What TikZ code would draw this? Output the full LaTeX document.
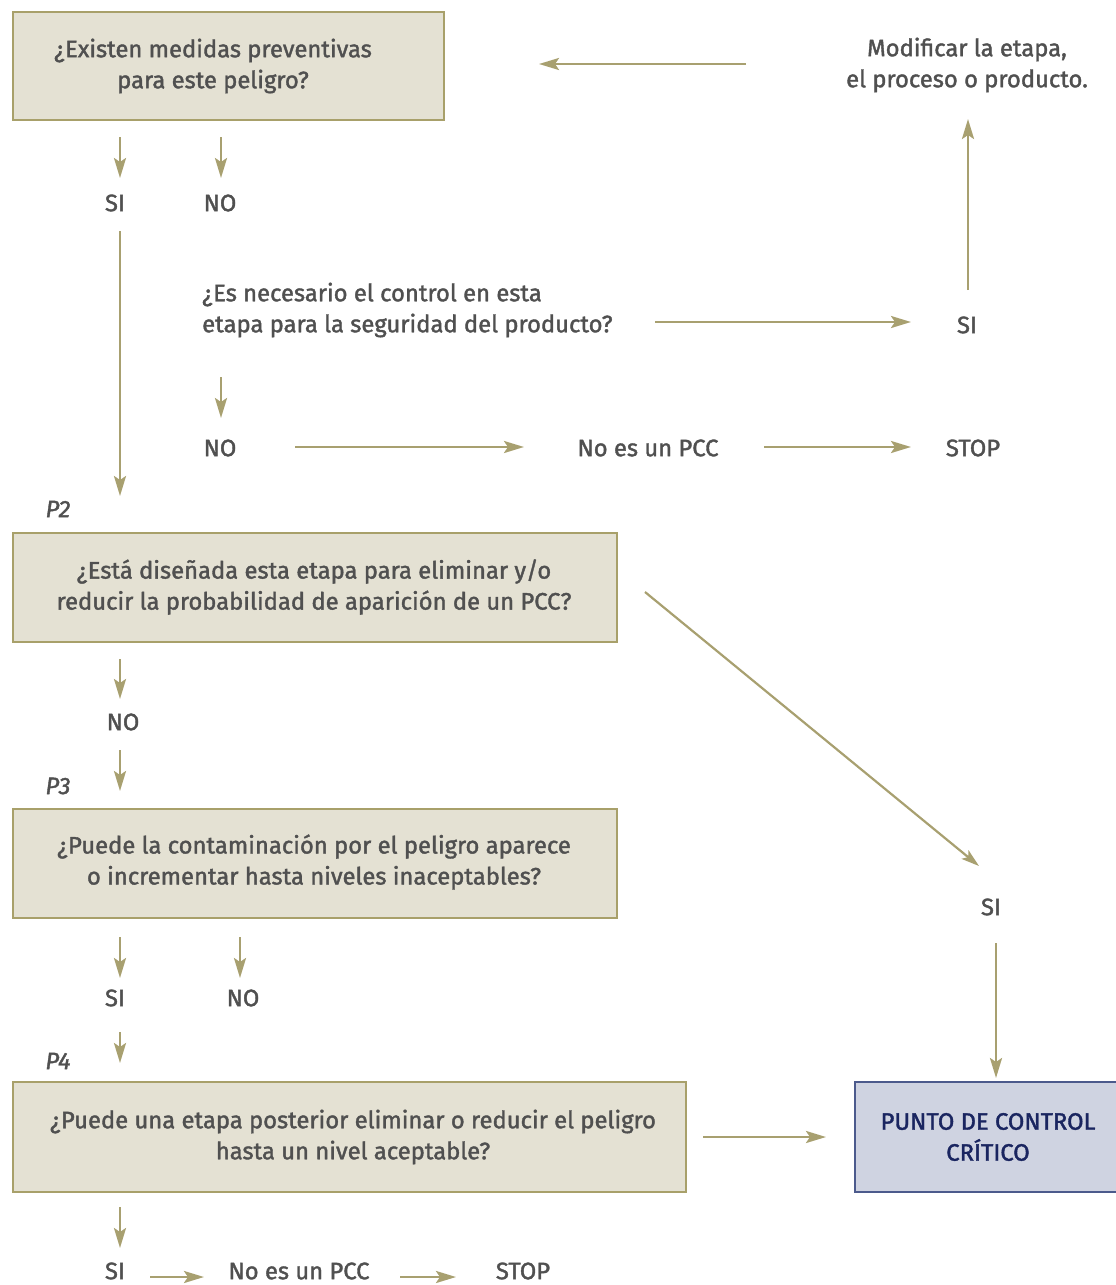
\documentclass[tikz,border=0pt]{standalone}
\usepackage{fontspec}
\setmainfont{Fira Sans}[BoldFont={Fira Sans}, BoldFeatures={FakeBold=1.6}, BoldItalicFont={Fira Sans Italic}, BoldItalicFeatures={FakeBold=1.6}]
\usetikzlibrary{arrows.meta}
\definecolor{olive}{HTML}{A8A070}
\definecolor{boxfill}{HTML}{E4E1D3}
\definecolor{boxedge}{HTML}{A8A06A}
\definecolor{txt}{HTML}{505050}
\definecolor{bluefill}{HTML}{CFD3E1}
\definecolor{blueedge}{HTML}{4C5A8C}
\definecolor{navy}{HTML}{1A2560}
\tikzset{
  qbox/.style={draw=boxedge, fill=boxfill, line width=1.5pt},
  txtnode/.style={text=txt, font=\fontsize{23.8}{31}\selectfont\bfseries, align=center, inner sep=0pt},
  lbl/.style={text=txt, font=\fontsize{23.8}{31}\selectfont\bfseries, inner sep=0pt},
  plbl/.style={text=txt, font=\fontsize{23.8}{31}\selectfont\bfseries\itshape, inner sep=0pt},
  arr/.style={draw=olive, line width=2.7pt, -{Stealth[length=20pt,width=12pt,inset=4pt]}},
  darr/.style={draw=olive, line width=2.2pt, -{Stealth[length=18pt,width=11pt,inset=4pt]}},
}
\begin{document}
\begin{tikzpicture}[x=1pt,y=-1pt]
\useasboundingbox (0,0) rectangle (1116,1285);
% boxes
\draw[qbox] (13,12) rectangle (444,120);
\node[txtnode] (q1) at (213,66) {¿Existen medidas preventivas\\para este peligro?};
\draw[qbox] (13,533) rectangle (617,642);
\node[txtnode] (q2) at (314,587) {¿Está diseñada esta etapa para eliminar y/o\\reducir la probabilidad de aparición de un PCC?};
\draw[qbox] (13,809) rectangle (617,918);
\node[txtnode] (q3) at (314,862) {¿Puede la contaminación por el peligro aparece\\o incrementar hasta niveles inaceptables?};
\draw[qbox] (13,1082) rectangle (686,1192);
\node[txtnode] (q4) at (353,1137) {¿Puede una etapa posterior eliminar o reducir el peligro\\hasta un nivel aceptable?};
\draw[draw=blueedge, fill=bluefill, line width=1.5pt] (855,1082) rectangle (1125,1192);
\node[txtnode, text=navy] (pcc) at (988,1137) {PUNTO DE CONTROL\\CRÍTICO};

% texts
\node[txtnode] (mod) at (967,65) {Modificar la etapa,\\el proceso o producto.};
\node[lbl] (si1) at (115,203) {SI};
\node[lbl] (no1) at (220,203) {NO};
\node[txtnode, align=left, anchor=west] (qn) at (202,310) {¿Es necesario el control en esta\\etapa para la seguridad del producto?};
\node[lbl] (si2) at (967,325) {SI};
\node[lbl] (no2) at (220,448) {NO};
\node[lbl] (nopcc1) at (648,448) {No es un PCC};
\node[lbl] (stop1) at (973,448) {STOP};
\node[plbl] (p2) at (58,509) {P2};
\node[lbl] (no3) at (123,722) {NO};
\node[plbl] (p3) at (58,786) {P3};
\node[lbl] (si3) at (991,907) {SI};
\node[lbl] (si4) at (115,998) {SI};
\node[lbl] (no4) at (243,998) {NO};
\node[plbl] (p4) at (58,1061) {P4};
\node[lbl] (si5) at (115,1271) {SI};
\node[lbl] (nopcc2) at (299,1271) {No es un PCC};
\node[lbl] (stop2) at (523,1271) {STOP};

% arrow end points
\coordinate (a1s) at (120,137); \coordinate (a1e) at (120,178);
\coordinate (a2s) at (221,137); \coordinate (a2e) at (221,178);
\coordinate (a3s) at (120,231); \coordinate (a3e) at (120,496);
\coordinate (a4s) at (655,322); \coordinate (a4e) at (911,322);
\coordinate (a5s) at (968,290); \coordinate (a5e) at (968,119);
\coordinate (a6s) at (746,64);  \coordinate (a6e) at (539,64);
\coordinate (a7s) at (221,377); \coordinate (a7e) at (221,418);
\coordinate (a8s) at (295,447); \coordinate (a8e) at (524,447);
\coordinate (a9s) at (764,447); \coordinate (a9e) at (911,447);
\coordinate (b1s) at (120,659); \coordinate (b1e) at (120,699);
\coordinate (b2s) at (120,750); \coordinate (b2e) at (120,791);
\coordinate (b3s) at (645,592); \coordinate (b3e) at (979,866);
\coordinate (b4s) at (996,943); \coordinate (b4e) at (996,1078);
\coordinate (c1s) at (120,937); \coordinate (c1e) at (120,978);
\coordinate (c2s) at (240,937); \coordinate (c2e) at (240,978);
\coordinate (c3s) at (120,1032); \coordinate (c3e) at (120,1063);
\coordinate (c4s) at (703,1137); \coordinate (c4e) at (826,1137);
\coordinate (d1s) at (120,1207); \coordinate (d1e) at (120,1248);
\coordinate (d2s) at (150,1277); \coordinate (d2e) at (204,1277);
\coordinate (d3s) at (400,1277); \coordinate (d3e) at (456,1277);

\foreach \a in {a1,a2,a3,a4,a5,a6,a7,a8,a9,b1,b2,b4,c1,c2,c3,c4,d1,d2,d3}
  \draw[arr] (\a s) -- (\a e);
\draw[darr] (b3s) -- (b3e);
\end{tikzpicture}
\end{document}
